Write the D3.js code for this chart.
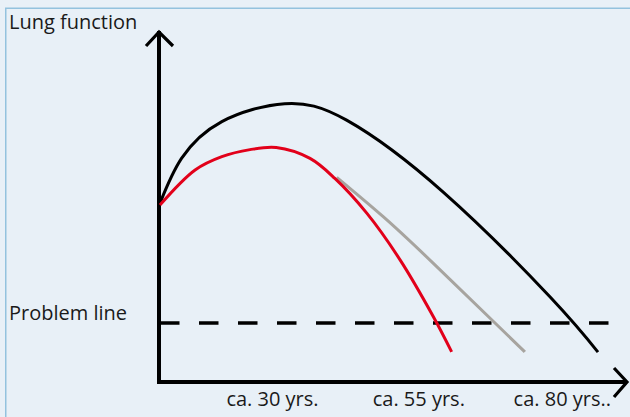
<!DOCTYPE html>
<html><head><meta charset="utf-8">
<script src="https://cdn.jsdelivr.net/npm/d3@7"></script>
<style>html,body{margin:0;padding:0;background:#e8f0f7;}svg{display:block;}</style>
</head><body>
<script>
// Curves in a normalized 0-100 age / lung-function space
const healthy = [[0.2,50.9],[4.8,63.7],[13.4,74.2],[26.8,79.3],[40.0,74.6],[60.6,54.1],[83.4,24.2],[93.6,8.5]];
const smoker = [[0.2,50.4],[7.7,60.4],[13.4,64.2],[19.4,66.2],[25.0,66.8],[32.2,63.7],[37.5,58.0],[44.3,48.1],[51.4,34.8],[58.5,18.6],[62.4,8.6]];
const quitter = [[37.9,58.3],[47.8,47.1],[58.5,33.8],[78.0,8.6]];
const problemLevel = 16.8;
const ageLabels = ["ca. 30 yrs.","ca. 55 yrs.","ca. 80 yrs.."];
const ageLabelPos = [24.2,55.4,86.0];
const yTitle = "Lung function";
const problemTitle = "Problem line";

const W=630,H=417;
const svg=d3.select("body").append("svg").attr("width",W).attr("height",H);
svg.append("rect").attr("width",W).attr("height",H).attr("fill","#e8f0f7");
svg.append("rect").attr("x",5.75).attr("y",8.25).attr("width",W).attr("height",H)
  .attr("fill","none").attr("stroke","#93c2de").attr("stroke-width",1.5);

const x=d3.scaleLinear().domain([0,100]).range([159,628]);
const y=d3.scaleLinear().domain([0,100]).range([382,31]);

const font="'Open Sans', sans-serif";
// Axes
const ax=svg.append("g").attr("stroke","#000").attr("fill","none").attr("stroke-linecap","butt");
ax.append("line").attr("x1",x(0)).attr("x2",x(0)).attr("y1",y(0)+2).attr("y2",y(100)).attr("stroke-width",4);
ax.append("line").attr("x1",x(0)-2).attr("x2",x(100)-1).attr("y1",y(0)).attr("y2",y(0)).attr("stroke-width",4);
ax.append("path").attr("d",`M${x(0)-13},${y(100)+15}L${x(0)},${y(100)+1}L${x(0)+14},${y(100)+15}`).attr("stroke-width",3.2);
ax.append("path").attr("d",`M${x(100)-14},${y(0)-14}L${x(100)-1},${y(0)}L${x(100)-14},${y(0)+15}`).attr("stroke-width",3.2);

// problem line
svg.append("line").attr("x1",x(0)+1).attr("x2",x(96.2)).attr("y1",y(problemLevel)).attr("y2",y(problemLevel))
  .attr("stroke","#000").attr("stroke-width",3.5).attr("stroke-dasharray","19.5,19.5");

const line=d3.line().x(d=>x(d[0])).y(d=>y(d[1])).curve(d3.curveNatural);
const lineCR=d3.line().x(d=>x(d[0])).y(d=>y(d[1])).curve(d3.curveCatmullRom.alpha(0.5));
svg.append("path").datum(quitter).attr("d",line).attr("fill","none").attr("stroke","#a7a49f").attr("stroke-width",3);
svg.append("path").datum(healthy).attr("d",line).attr("fill","none").attr("stroke","#000").attr("stroke-width",3);
svg.append("path").datum(smoker).attr("d",lineCR).attr("fill","none").attr("stroke","#e2001a").attr("stroke-width",3);

// texts
svg.append("text").attr("x",9).attr("y",29).text(yTitle).attr("font-family",font).attr("font-size",20).attr("fill","#1a1a1a");
svg.append("text").attr("x",9).attr("y",320).text(problemTitle).attr("font-family",font).attr("font-size",20).attr("fill","#1a1a1a");
svg.selectAll("text.age").data(ageLabels).join("text").attr("class","age")
  .attr("x",(d,i)=>x(ageLabelPos[i])).attr("y",406).attr("text-anchor","middle")
  .attr("font-family",font).attr("font-size",20).attr("fill","#1a1a1a").text(d=>d);
</script>
</body></html>
